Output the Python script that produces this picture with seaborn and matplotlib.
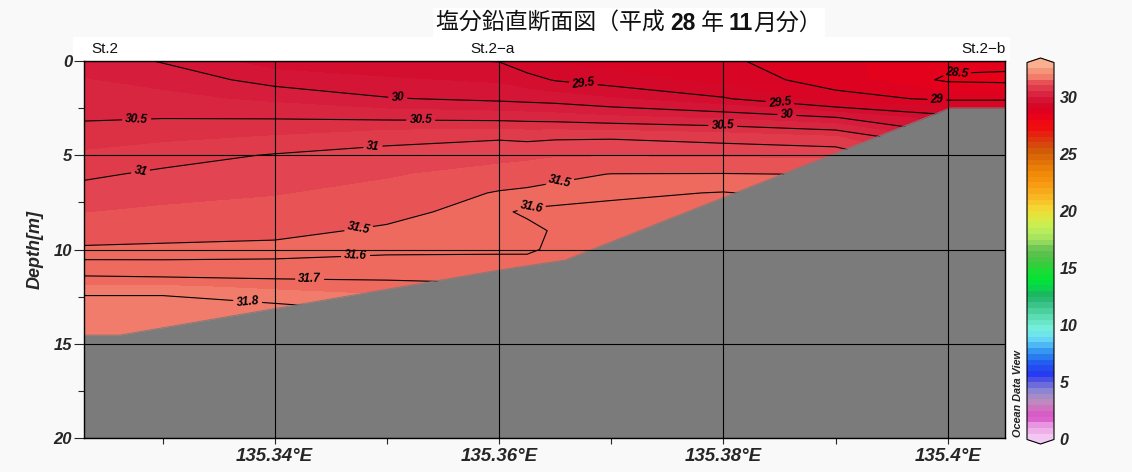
import numpy as np
import pandas as pd
import seaborn as sns
import matplotlib.pyplot as plt
from matplotlib.colors import LinearSegmentedColormap, Normalize
from matplotlib.cm import ScalarMappable
from matplotlib.patches import Rectangle
from matplotlib.offsetbox import TextArea, HPacker, AnchoredOffsetbox

# --- values (longitude in deg E, depth in m) ---
grid_lon = [135.3230, 135.3300, 135.3400, 135.3500, 135.3600, 135.3625,
            135.3650, 135.3700, 135.3800, 135.3900, 135.4000, 135.4051]
grid_depth = [0, 1, 2, 3, 4, 5, 6, 7, 8, 9, 10, 11, 12, 13, 14, 15]

# salinity profiles at each grid longitude, 0-15 m
sal_3230 = [30.15, 30.26, 30.37, 30.47, 30.63, 30.79, 30.95, 31.10, 31.24, 31.39, 31.53, 31.66, 31.76, 31.85, 31.90, 31.95]
sal_3300 = [29.98, 30.16, 30.32, 30.49, 30.68, 30.89, 31.05, 31.17, 31.29, 31.42, 31.54, 31.65, 31.76, 31.85, 31.90, 31.95]
sal_3400 = [29.62, 29.90, 30.19, 30.48, 30.76, 31.02, 31.13, 31.23, 31.34, 31.45, 31.55, 31.65, 31.74, 31.81, 31.85, 31.90]
sal_3500 = [29.56, 29.78, 30.02, 30.44, 30.90, 31.10, 31.22, 31.33, 31.44, 31.53, 31.58, 31.65, 31.73, 31.78, 31.83, 31.88]
sal_3600 = [29.49, 29.70, 29.94, 30.41, 30.96, 31.16, 31.35, 31.52, 31.585, 31.57, 31.59, 31.63, 31.72, 31.74, 31.76, 31.78]
sal_3625 = [29.33, 29.60, 29.91, 30.39, 30.93, 31.18, 31.40, 31.54, 31.615, 31.575, 31.58, 31.66, 31.72, 31.74, 31.76, 31.78]
sal_3650 = [29.20, 29.48, 29.88, 30.37, 30.95, 31.22, 31.45, 31.56, 31.62, 31.61, 31.625, 31.66, 31.68, 31.71, 31.73, 31.75]
sal_3700 = [29.15, 29.37, 29.77, 30.30, 30.96, 31.23, 31.505, 31.58, 31.63, 31.65, 31.67, 31.68, 31.71, 31.73, 31.74, 31.75]
sal_3800 = [29.05, 29.15, 29.53, 30.20, 30.88, 31.21, 31.51, 31.605, 31.62, 31.64, 31.66, 31.68, 31.71, 31.73, 31.74, 31.75]
sal_3900 = [28.80, 28.88, 29.10, 30.01, 30.75, 31.20, 31.49, 31.56, 31.62, 31.64, 31.66, 31.68, 31.71, 31.73, 31.74, 31.75]
sal_4000 = [28.60, 28.45, 28.95, 29.60, 30.10, 30.60, 31.02, 31.30, 31.48, 31.58, 31.64, 31.66, 31.68, 31.71, 31.73, 31.75]
sal_4051 = [28.60, 28.42, 28.95, 29.60, 30.10, 30.60, 31.02, 31.30, 31.48, 31.58, 31.64, 31.66, 31.68, 31.71, 31.73, 31.75]

contour_levels = [28.5, 29, 29.5, 30, 30.5, 31, 31.5, 31.6, 31.7, 31.8]

# sea floor
bathy_lon = [135.3230, 135.3262, 135.3600, 135.3659, 135.4002, 135.4051]
bathy_depth = [14.54, 14.54, 11.09, 10.56, 2.49, 2.49]

station_names = ["St.2", "St.2\u2212a", "St.2\u2212b"]
station_lon = [135.3249, 135.3594, 135.4032]

xtick_vals = [135.34, 135.36, 135.38, 135.40]
xtick_text = ["135.34°E", "135.36°E", "135.38°E", "135.4°E"]
ytick_vals = [0, 5, 10, 15, 20]
cbar_ticks = [0, 5, 10, 15, 20, 25, 30]

# ODV-like palette, 0..33
cmap_anchor = [0.0, 1.0, 1.7, 2.5, 3.2, 4.0, 4.8, 5.5, 6.5, 7.5, 8.5, 9.5, 10.5,
               11.5, 12.5, 13.5, 14.5, 15.5, 16.5, 17.5, 18.5, 19.5, 20.5, 21.5,
               22.5, 23.5, 24.5, 25.5, 26.5, 27.5, 28.0, 28.6, 29.2, 29.6, 30.1,
               30.6, 31.1, 31.4, 31.65, 31.9, 32.5, 33.0]
cmap_hex = ["#f2c8f2", "#e898e0", "#d850c8", "#d070c0", "#b890c0", "#9088d0",
            "#6060e0", "#2838f0", "#2058f0", "#3090f0", "#60d0f8", "#78f0e0",
            "#60e0b8", "#40c890", "#20b068", "#00e040", "#10e030", "#40c840",
            "#60c050", "#a0e060", "#c0f058", "#e0e840", "#f8d030", "#f8b020",
            "#f89810", "#f08808", "#e07008", "#d05808", "#e03010", "#f00a10",
            "#f00812", "#e6001a", "#d80424", "#d30a2a", "#d6183a", "#da2a42",
            "#e0404e", "#e54b55", "#ec6058", "#f07868", "#f49478", "#f8b090"]
vmin, vmax = 0, 33

sns.set_style("ticks")
plt.rcParams["font.family"] = ["Liberation Sans", "Noto Sans CJK JP"]

anchors = [(v - vmin) / (vmax - vmin) for v in cmap_anchor]
cmap_field = LinearSegmentedColormap.from_list("odv", list(zip(anchors, cmap_hex)), N=264)
cmap_bar = LinearSegmentedColormap.from_list("odv_bar", list(zip(anchors, cmap_hex)), N=66)
norm = Normalize(vmin, vmax)

profiles = [sal_3230, sal_3300, sal_3400, sal_3500, sal_3600, sal_3625,
            sal_3650, sal_3700, sal_3800, sal_3900, sal_4000, sal_4051]
df = pd.DataFrame(dict(zip(grid_lon, profiles)), index=grid_depth)
LON, DEP = np.meshgrid(df.columns.values, df.index.values)
SAL = df.values

W, H = 1132, 472
fig = plt.figure(figsize=(W / 100, H / 100), dpi=100, facecolor="#f9f9f9")
ax = fig.add_axes([84 / W, 1 - 438 / H, (1005 - 84) / W, (438 - 61) / H])
ax.set_facecolor("white")

ax.contourf(LON, DEP, SAL, levels=np.arange(28.0, 32.3, 0.25), cmap=cmap_field,
            norm=norm, zorder=1)
cs = ax.contour(LON, DEP, SAL, levels=contour_levels, colors="black",
                linewidths=0.8, zorder=2)

label_pos = [(135.35097, 1.96), (135.32770, 3.18), (135.35302, 3.13),
             (135.37994, 3.40), (135.32805, 5.89), (135.34874, 4.46),
             (135.36746, 1.38), (135.38502, 2.28), (135.38565, 2.92),
             (135.40080, 0.60), (135.39902, 2.17), (135.34749, 8.91),
             (135.36532, 6.20), (135.36290, 7.85), (135.34722, 10.45),
             (135.34312, 11.57), (135.33759, 12.73)]
labels = ax.clabel(cs, contour_levels, manual=label_pos, inline=True,
                   inline_spacing=3, fmt="%g", fontsize=8.5)
for t in labels:
    t.set_fontstyle("italic")
    t.set_fontweight("bold")
    t.set_zorder(3)

ax.fill_between(bathy_lon, bathy_depth, 20, color="#7b7b7b", linewidth=0, zorder=2.2)
sns.lineplot(x=bathy_lon, y=bathy_depth, color="#7b7b7b", linewidth=0.6, ax=ax,
             zorder=2.2, sort=False)

ax.set_xlim(135.3230, 135.4051)
ax.set_ylim(20, 0)
ax.set_xticks(xtick_vals)
ax.set_xticklabels(xtick_text, fontsize=13.5, fontweight="bold", fontstyle="italic")
ax.set_xticks([135.33, 135.35, 135.37, 135.39], minor=True)
ax.set_yticks(ytick_vals)
ax.set_yticklabels([str(v) for v in ytick_vals], fontsize=12, fontweight="bold",
                   fontstyle="italic")
ax.set_yticks([2.5, 7.5, 12.5, 17.5], minor=True)
ax.tick_params(axis="x", which="both", direction="out", length=4.5, width=0.8, pad=3)
ax.tick_params(axis="y", which="major", direction="out", length=7.5, width=0.8, pad=1)
ax.tick_params(axis="y", which="minor", direction="out", length=4.3, width=0.8)
ax.set_axisbelow(False)
ax.grid(True, which="major", color="black", linewidth=0.8)
for sp in ax.spines.values():
    sp.set_color("black")
    sp.set_linewidth(1.0)
    sp.set_zorder(4)
ax.set_xlabel("")
ax.set_ylabel("Depth[m]", fontsize=13, fontweight="bold", fontstyle="italic",
              labelpad=7)

# station strip above the section
fig.add_artist(Rectangle((73 / W, 1 - 61 / H), (1010 - 73) / W, 24 / H,
                         transform=fig.transFigure, facecolor="white",
                         edgecolor="none", zorder=-1))
for name, lon in zip(station_names, station_lon):
    ax.text(lon, 1.032, name, transform=ax.get_xaxis_transform(), ha="center",
            va="center", fontsize=11, color="#111111", clip_on=False)

# title with bold numerals
parts = [("塩分鉛直断面図（平成 ", "normal"), ("28", "bold"), (" 年 ", "normal"),
         ("11", "bold"), ("月分）", "normal")]
boxes = []
for s, w in parts:
    fam = ["Liberation Sans"] if w == "bold" else ["Noto Sans CJK JP"]
    boxes.append(TextArea(s, textprops=dict(fontsize=16.5, fontweight=w,
                                            family=fam, color="#111111")))
pack = HPacker(children=boxes, align="baseline", pad=0, sep=0)
title_box = AnchoredOffsetbox(loc="center", child=pack, pad=0.25, borderpad=0,
                              frameon=True, bbox_to_anchor=(629 / W, 1 - 23 / H),
                              bbox_transform=fig.transFigure)
title_box.patch.set_facecolor("white")
title_box.patch.set_edgecolor("none")
fig.add_artist(title_box)

# colour bar
cax = fig.add_axes([1027 / W, 1 - 444 / H, 27 / W, 386 / H])
sm = ScalarMappable(norm=norm, cmap=cmap_bar)
cb = fig.colorbar(sm, cax=cax, extend="both", extendfrac=0.012, ticks=cbar_ticks)
cb.outline.set_linewidth(0.8)
cb.outline.set_edgecolor("black")
cax.tick_params(length=0, pad=4)
cax.set_yticklabels([str(v) for v in cbar_ticks], fontsize=11.5, fontweight="bold",
                    fontstyle="italic")

fig.text(1018 / W, 1 - 437 / H, "Ocean Data View", rotation=90, ha="center",
         va="bottom", fontsize=7.8, fontweight="bold", fontstyle="italic",
         color="#222222")

fig.savefig("out.png", dpi=100, facecolor=fig.get_facecolor())
